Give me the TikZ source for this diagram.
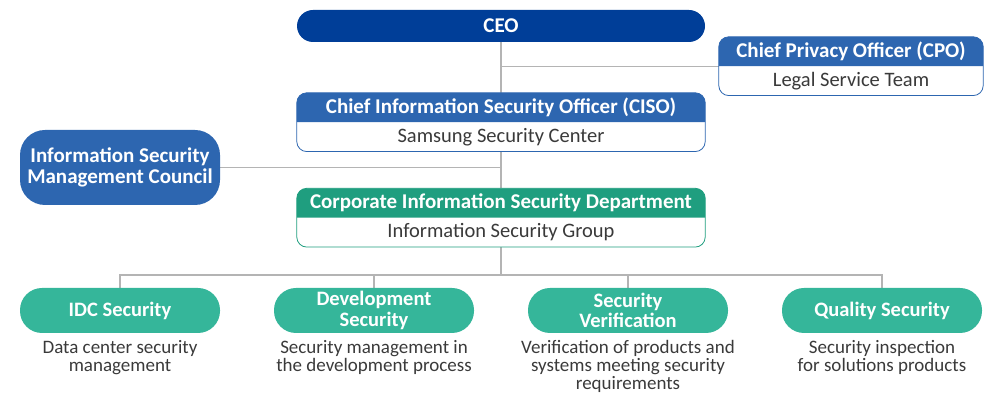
\documentclass[tikz,border=0pt]{standalone}
\usepackage{fontspec}
\setmainfont{Carlito}
\usetikzlibrary{positioning, backgrounds}
\definecolor{ceoblue}{HTML}{003E98}
\definecolor{midblue}{HTML}{2D66B0}
\definecolor{deptgreen}{HTML}{1F9E7F}
\definecolor{pillgreen}{HTML}{35B69A}
\definecolor{linegray}{HTML}{B4B4B4}
\definecolor{textgray}{HTML}{3A3A3A}
\begin{document}
\begin{tikzpicture}[x=1pt, y=1pt,
  link/.style={draw=linegray, line width=1.2pt},
  topbox/.style={fill=ceoblue, text=white, rounded corners=16pt, minimum width=408pt, minimum height=32pt, inner sep=0pt, font=\fontsize{21}{23}\selectfont\bfseries},
  head/.style={text=white, minimum height=29pt, inner sep=0pt, font=\fontsize{21}{23}\selectfont\bfseries},
  sub/.style={text=textgray, minimum height=29pt, inner sep=0pt, font=\fontsize{20.5}{22}\selectfont},
  council/.style={fill=midblue, text=white, rounded corners=25pt, minimum width=200pt, minimum height=75pt, align=center, inner sep=0pt, font=\fontsize{21}{21}\selectfont\bfseries},
  pill/.style={fill=pillgreen, text=white, rounded corners=22pt, minimum width=200pt, minimum height=45pt, align=center, inner sep=0pt, font=\fontsize{20.5}{20.5}\selectfont\bfseries},
  note/.style={text=textgray, align=center, inner sep=0pt, font=\fontsize{19}{18}\selectfont}
]
\useasboundingbox (0,0) rectangle (985,393);
\node[topbox] (ceo) at (501,367) {CEO};
\node[head, minimum width=264pt] (cpo) at (851,341.5) {Chief Privacy Officer (CPO)};
\node[sub, minimum width=264pt, below=0pt of cpo] (cposub) {Legal Service Team};
\node[head, minimum width=408pt] (ciso) at (501,285.5) {Chief Information Security Officer (CISO)};
\node[sub, minimum width=408pt, below=0pt of ciso] (cisosub) {Samsung Security Center};
\node[council] (council) at (120,225.5) {Information Security\\Management Council};
\node[head, minimum width=408pt] (corp) at (501,190) {Corporate Information Security Department};
\node[sub, minimum width=408pt, below=0pt of corp] (corpsub) {Information Security Group};
\node[pill] (idc) at (120,82.5) {IDC Security};
\node[pill] (dev) at (374,82.5) {Development\\Security};
\node[pill] (ver) at (628,82.5) {Security\\Verification};
\node[pill] (qual) at (882,82.5) {Quality Security};
\node[note, below=7pt of idc] (idcnote) {Data center security\\management};
\node[note, below=7pt of dev] (devnote) {Security management in\\the development process};
\node[note, below=7pt of ver] (vernote) {Verification of products and\\systems meeting security\\requirements};
\node[note, below=7pt of qual] (qualnote) {Security inspection\\for solutions products};
\coordinate (bus) at (501,118);
\begin{scope}[on background layer]
  \draw[link] (ceo.south) -- (ciso.north);
  \draw[link] (ceo.south |- cpo.south west) -- (cpo.south west);
  \draw[link] (cisosub.south) -- (corp.north);
  \draw[link] (council.east) -- (council.east -| corp.north);
  \draw[link] (corpsub.south) -- (bus);
  \draw[link] (idc.north) |- (bus) -| (qual.north);
  \foreach \p in {dev, ver}
    \draw[link] (\p.north) -- (\p.north |- bus);
  \foreach \h/\s/\c in {cpo/cposub/midblue, ciso/cisosub/midblue, corp/corpsub/deptgreen} {
    \fill[white, rounded corners=10pt] (\h.north west) rectangle (\s.south east);
    \fill[\c] (\h.south west) [rounded corners=10pt] -- (\h.north west) -- (\h.north east) [sharp corners] -- (\h.south east) -- cycle;
    \draw[\c, line width=0.8pt, rounded corners=10pt] (\h.north west) rectangle (\s.south east);
  }
\end{scope}
\end{tikzpicture}
\end{document}
